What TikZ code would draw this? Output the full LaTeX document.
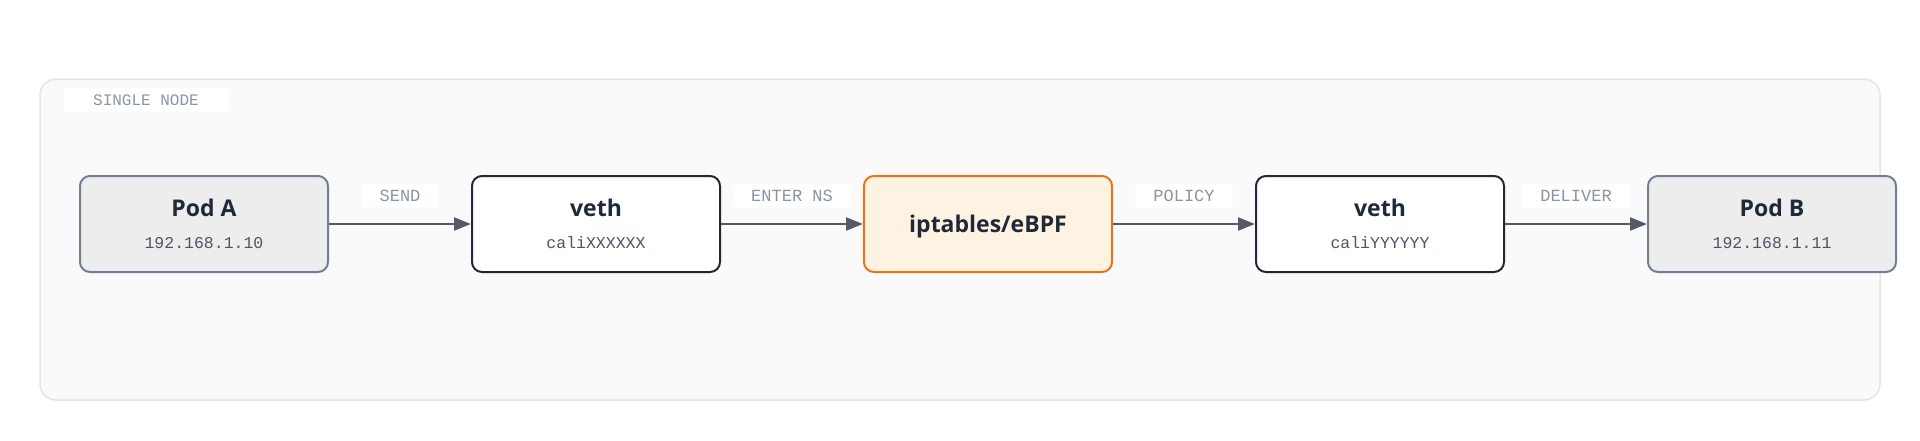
\documentclass[tikz,border=0pt]{standalone}
\usepackage{fontspec}
\setmainfont{Open Sans}
\setmonofont{Liberation Mono}
\usetikzlibrary{arrows.meta}
\definecolor{frameline}{HTML}{E5E5E5}
\definecolor{framefill}{HTML}{FAFAFA}
\definecolor{podfill}{HTML}{EDEDED}
\definecolor{podline}{HTML}{718096}
\definecolor{vethline}{HTML}{1F2937}
\definecolor{filterfill}{HTML}{FEF3E2}
\definecolor{filterline}{HTML}{EA7317}
\definecolor{inktext}{HTML}{1F2937}
\definecolor{subtext}{HTML}{4B5563}
\definecolor{labeltext}{HTML}{8A94A6}
\definecolor{arrowline}{HTML}{555B66}
\tikzset{
  frame/.style={draw=frameline, fill=framefill, line width=1.5pt, rounded corners=16pt, inner sep=0pt, minimum width=1840pt, minimum height=321pt},
  box/.style={rounded corners=10pt, line width=2pt, inner sep=0pt, minimum width=248pt, minimum height=96pt},
  podbox/.style={box, draw=podline, fill=podfill},
  vethbox/.style={box, draw=vethline, fill=white},
  filterbox/.style={box, draw=filterline, fill=filterfill},
  boxtitle/.style={font=\fontsize{23}{28}\selectfont\bfseries, text=inktext, inner sep=0pt, anchor=base},
  boxsub/.style={font=\fontsize{16.5}{20}\selectfont\ttfamily, text=subtext, inner sep=0pt, anchor=base},
  flow/.style={draw=arrowline, line width=2.5pt, -{Triangle[length=17pt,width=13pt]}},
  flowlabel/.style={font=\fontsize{17}{20}\selectfont\ttfamily, text=labeltext, fill=white, rounded corners=3pt, inner xsep=18pt, inner ysep=0pt, minimum height=24pt},
  zonelabel/.style={flowlabel, font=\fontsize{16}{20}\selectfont\ttfamily, inner xsep=29pt}
}
\begin{document}
\begin{tikzpicture}[x=1pt, y=-1pt]
\useasboundingbox (0,0) rectangle (1920,440);
\node (cluster) [frame] at (960,239.5) {};
\node (clustername) [zonelabel] at (146,100) {SINGLE NODE};

\node (podA) [podbox] at (204,224) {};
\node (vethA) [vethbox] at (596,224) {};
\node (filter) [filterbox] at (988,224) {};
\node (vethB) [vethbox] at (1380,224) {};
\node (podB) [podbox] at (1772,224) {};

\node (podAname) [boxtitle] at ([yshift=8]podA.center) {Pod A};
\node (podAip) [boxsub] at ([yshift=-24]podA.center) {192.168.1.10};
\node (vethAname) [boxtitle] at ([yshift=8]vethA.center) {veth};
\node (vethAif) [boxsub] at ([yshift=-24]vethA.center) {caliXXXXXX};
\node (filtername) [boxtitle] at ([yshift=-8.7]filter.center) {iptables/eBPF};
\node (vethBname) [boxtitle] at ([yshift=8]vethB.center) {veth};
\node (vethBif) [boxsub] at ([yshift=-24]vethB.center) {caliYYYYYY};
\node (podBname) [boxtitle] at ([yshift=8]podB.center) {Pod B};
\node (podBip) [boxsub] at ([yshift=-24]podB.center) {192.168.1.11};

\draw [flow] (podA) -- node (send) [flowlabel, yshift=28] {SEND} (vethA);
\draw [flow] (vethA) -- node (enter) [flowlabel, yshift=28] {ENTER NS} (filter);
\draw [flow] (filter) -- node (policy) [flowlabel, yshift=28] {POLICY} (vethB);
\draw [flow] (vethB) -- node (deliver) [flowlabel, yshift=28] {DELIVER} (podB);
\end{tikzpicture}
\end{document}
